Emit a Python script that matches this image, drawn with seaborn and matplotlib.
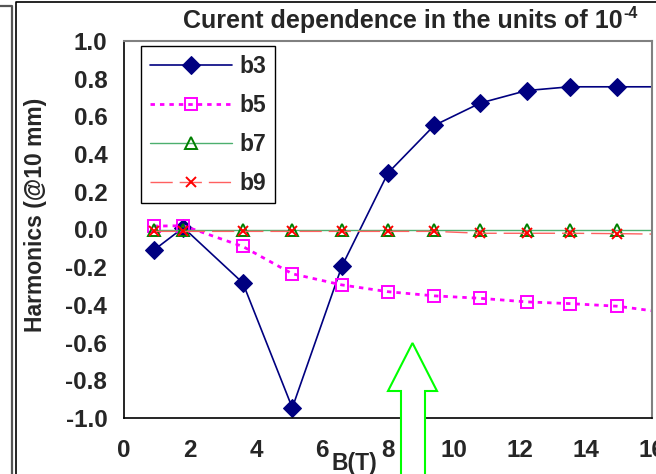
import numpy as np
import pandas as pd
import matplotlib
matplotlib.use("Agg")
import matplotlib.pyplot as plt
from matplotlib.lines import Line2D
from matplotlib.patches import Polygon
import seaborn as sns

# Field values (T) and harmonic coefficients (units of 1e-4 at 10 mm)
field = [0.9, 1.8, 3.6, 5.1, 6.6, 8.0, 9.4, 10.8, 12.2, 13.5, 14.95, 16.4]
b3 = [-0.11, 0.01, -0.283, -0.946, -0.196, 0.30, 0.552, 0.671, 0.737, 0.757, 0.757, 0.757]
b5 = [0.018, 0.02, -0.09, -0.235, -0.294, -0.33, -0.352, -0.365, -0.384, -0.393, -0.407, -0.44]
b7 = [-0.005, -0.005, -0.005, -0.005, -0.005, -0.005, -0.005, -0.005, -0.005, -0.005, -0.005, -0.005]
b9 = [-0.01, -0.01, -0.01, -0.01, -0.01, -0.01, -0.01, -0.02, -0.02, -0.02, -0.022, -0.025]

x_ticks = [0, 2, 4, 6, 8, 10, 12, 14, 16]
y_ticks = [-1.0, -0.8, -0.6, -0.4, -0.2, 0.0, 0.2, 0.4, 0.6, 0.8, 1.0]

title_main = "Curent dependence in the units of 10"
title_exp = "-4"
x_label = "B(T)"
y_label = "Harmonics (@10 mm)"

sns.set_style("white")
plt.rcParams["font.family"] = ["Liberation Sans", "DejaVu Sans"]
plt.rcParams["font.weight"] = "bold"
plt.rcParams["axes.unicode_minus"] = False

W, H = 656, 474
fig = plt.figure(figsize=(W / 100, H / 100), dpi=100)
fig.patch.set_facecolor("white")

L, R, T, B = 124, 652, 41, 418
ax = fig.add_axes([L / W, 1 - B / H, (R - L) / W, (B - T) / H])
ax.set_facecolor("white")

df = pd.DataFrame({"B": field, "b3": b3, "b5": b5, "b7": b7, "b9": b9})

sns.lineplot(data=df, x="B", y="b3", ax=ax, color="#000080", lw=1.2,
             marker="D", markersize=9.5, markerfacecolor="#000080",
             markeredgecolor="#000080", label="b3")
sns.lineplot(data=df, x="B", y="b5", ax=ax, color="#FF00FF", lw=2.0,
             linestyle=(0, (1.6, 1.8)), marker="s", markersize=8,
             markerfacecolor="none", markeredgecolor="#FF00FF",
             markeredgewidth=1.4, label="b5")
sns.lineplot(data=df, x="B", y="b7", ax=ax, color="#4CAF6E", lw=1.0,
             marker="^", markersize=9, markerfacecolor="none",
             markeredgecolor="#008000", markeredgewidth=1.4, label="b7")
sns.lineplot(data=df, x="B", y="b9", ax=ax, color="#FF6060", lw=1.0,
             linestyle=(0, (16, 5)), marker="x", markersize=7,
             markeredgecolor="#FF0000", markeredgewidth=1.4, label="b9")

ax.set_xlim(0, 16)
ax.set_ylim(-1.0, 1.0)
ax.set_xticks(x_ticks)
ax.set_xticklabels([str(v) for v in x_ticks])
ax.set_yticks(y_ticks)
ax.set_yticklabels([f"{v:.1f}" for v in y_ticks])
ax.tick_params(axis="both", direction="out", length=5, width=1, color="black",
               labelsize=17.5)
ax.tick_params(axis="x", pad=10)
ax.tick_params(axis="y", pad=7)
for lab in ax.get_xticklabels() + ax.get_yticklabels():
    lab.set_fontweight("bold")

for side in ["left", "bottom"]:
    ax.spines[side].set_color("black")
    ax.spines[side].set_linewidth(1.2)
for side in ["top", "right"]:
    ax.spines[side].set_color("#808080")
    ax.spines[side].set_linewidth(1.5)

ax.set_xlabel(x_label, fontsize=16.5, fontweight="bold")
ax.xaxis.set_label_coords(0.436, -0.09)
ax.set_ylabel(y_label, fontsize=16.5, fontweight="bold")
ax.yaxis.set_label_coords(-0.145, 0.538)

leg = ax.legend(loc="upper left", bbox_to_anchor=(0.032, 0.987),
                borderaxespad=0, frameon=True, fancybox=False,
                edgecolor="black", framealpha=1, handlelength=3.6,
                handletextpad=0.3, labelspacing=0.7, borderpad=0.38,
                prop={"weight": "bold", "size": 16.5})
leg.get_frame().set_linewidth(1.0)

# Title with a raised exponent
renderer = fig.canvas.get_renderer()
t_main = fig.text(183 / W, 1 - 21 / H, title_main, ha="left", va="center",
                  fontsize=18, fontweight="bold")
bb = t_main.get_window_extent(renderer)
fig.text((bb.x1 + 1) / W, 1 - 13 / H, title_exp, ha="left", va="center",
         fontsize=11.5, fontweight="bold")

# Surrounding frame lines
def px_line(xs, ys, **kw):
    fig.add_artist(Line2D([x / W for x in xs], [1 - y / H for y in ys],
                          transform=fig.transFigure, **kw))

px_line([15.5, 15.5, 660], [480, 1.5, 1.5], color="black", lw=1.2)
px_line([-5, 11.5, 11.5], [5.5, 5.5, 480], color="#555555", lw=1.6)

# Outlined arrow pointing up at the 8-9 T region
arrow_px = [(412.5, 343), (437, 391), (425, 391), (425, 490),
            (401, 490), (401, 391), (388, 391)]
arrow = Polygon([(x / W, 1 - y / H) for x, y in arrow_px], closed=True,
                transform=fig.transFigure, facecolor="white",
                edgecolor="#00FF00", lw=1.5, zorder=5)
fig.add_artist(arrow)

fig.savefig("out.png", dpi=100)
